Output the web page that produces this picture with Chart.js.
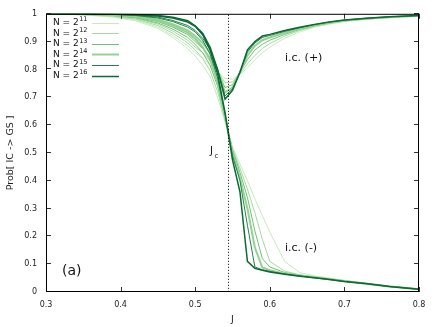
<!DOCTYPE html>
<html><head><meta charset="utf-8">
<script src="https://cdn.jsdelivr.net/npm/chart.js@4.4.1/dist/chart.umd.min.js"></script>
<style>html,body{margin:0;padding:0;background:#fff}</style>
</head><body>
<canvas id="c" width="436" height="327"></canvas>
<script>
// ---- data ----
const J = [0.30,0.33,0.36,0.39,0.42,0.45,0.47,0.49,0.50,0.51,0.52,0.53,0.54,0.55,0.56,0.57,0.58,0.59,0.60,0.62,0.64,0.66,0.68,0.70,0.73,0.76,0.80];
const sizes = ['11','12','13','14','15','16'];

const minus11 = [1.0,0.998,0.994,0.988,0.975,0.948,0.915,0.875,0.848,0.815,0.775,0.70,0.61,0.52,0.46,0.40,0.335,0.275,0.215,0.11,0.07,0.058,0.05,0.042,0.032,0.022,0.012];
const minus12 = [1.0,0.999,0.996,0.991,0.981,0.958,0.93,0.895,0.87,0.84,0.795,0.72,0.62,0.515,0.445,0.37,0.285,0.19,0.11,0.075,0.062,0.055,0.048,0.041,0.031,0.021,0.011];
const minus13 = [1.0,0.999,0.997,0.994,0.986,0.967,0.945,0.915,0.89,0.86,0.815,0.74,0.625,0.51,0.43,0.34,0.22,0.12,0.09,0.07,0.06,0.053,0.047,0.04,0.031,0.021,0.011];
const minus14 = [1.0,1.0,0.998,0.996,0.99,0.976,0.958,0.932,0.91,0.88,0.835,0.755,0.63,0.50,0.41,0.30,0.16,0.088,0.078,0.066,0.059,0.052,0.046,0.039,0.03,0.02,0.01];
const minus15 = [1.0,1.0,0.999,0.998,0.994,0.985,0.972,0.952,0.935,0.905,0.855,0.77,0.64,0.49,0.40,0.24,0.09,0.08,0.074,0.065,0.058,0.051,0.045,0.038,0.03,0.02,0.01];
const minus16 = [1.0,1.0,1.0,0.999,0.997,0.992,0.985,0.97,0.955,0.925,0.87,0.785,0.645,0.475,0.36,0.11,0.085,0.078,0.072,0.064,0.057,0.051,0.045,0.038,0.03,0.02,0.01];

const plus11 = [1.0,0.999,0.995,0.99,0.978,0.953,0.922,0.885,0.86,0.84,0.815,0.79,0.768,0.765,0.782,0.805,0.835,0.86,0.88,0.912,0.935,0.952,0.963,0.972,0.98,0.986,0.992];
const plus12 = [1.0,0.999,0.997,0.993,0.984,0.963,0.938,0.905,0.88,0.86,0.83,0.795,0.752,0.755,0.785,0.82,0.85,0.875,0.893,0.92,0.94,0.955,0.965,0.974,0.981,0.987,0.993];
const plus13 = [1.0,1.0,0.998,0.995,0.988,0.972,0.952,0.925,0.9,0.875,0.845,0.795,0.735,0.745,0.79,0.835,0.87,0.89,0.905,0.926,0.944,0.957,0.967,0.975,0.982,0.988,0.993];
const plus14 = [1.0,1.0,0.999,0.997,0.992,0.98,0.963,0.94,0.92,0.895,0.86,0.795,0.718,0.735,0.79,0.85,0.885,0.905,0.915,0.932,0.948,0.96,0.969,0.976,0.983,0.988,0.993];
const plus15 = [1.0,1.0,1.0,0.998,0.995,0.988,0.976,0.958,0.94,0.912,0.872,0.80,0.705,0.73,0.79,0.862,0.895,0.915,0.922,0.937,0.95,0.961,0.97,0.977,0.984,0.989,0.994];
const plus16 = [1.0,1.0,1.0,0.999,0.998,0.994,0.988,0.975,0.957,0.93,0.88,0.80,0.693,0.725,0.79,0.87,0.90,0.92,0.926,0.94,0.952,0.962,0.971,0.978,0.984,0.989,0.994];

const xTicks = [0.3,0.4,0.5,0.6,0.7,0.8];
const yTicks = [0,0.1,0.2,0.3,0.4,0.5,0.6,0.7,0.8,0.9,1];
const Jc = 0.544;

// ---- styles ----
const colors = ['#c7e9c0','#a5daa0','#6cc273','#95d191','#23824a','#0b6a33'];
const widths = [1,1,1,2,1,1.5];
const FONT = 'DejaVu Sans';

const plusSeries = [plus11,plus12,plus13,plus14,plus15,plus16];
const minusSeries = [minus11,minus12,minus13,minus14,minus15,minus16];

const datasets = [];
sizes.forEach((s,i)=>{
  [['(+)',plusSeries[i]],['(-)',minusSeries[i]]].forEach(([ic,arr])=>{
    datasets.push({
      label:'N = 2^'+s+' i.c. '+ic,
      data: J.map((x,k)=>({x:x,y:arr[k]})),
      borderColor: colors[i], backgroundColor: colors[i],
      borderWidth: widths[i], pointRadius:0, tension:0, fill:false,
      order: 10-i
    });
  });
});

const annotations = [
  {text:'i.c. (+)', J:0.6204, P:0.839, size:11},
  {text:'i.c. (-)', J:0.6204, P:0.157, size:11},
  {text:'(a)', J:0.3214, P:0.075, size:14}
];

const framePlugin = {
  id:'frame',
  afterDraw(chart){
    const {ctx, chartArea:a, scales:{x,y}} = chart;
    ctx.save();
    // Jc dotted line
    const xc = Math.round(x.getPixelForValue(Jc))+0.5;
    ctx.strokeStyle='#000'; ctx.lineWidth=1; ctx.setLineDash([1,2]);
    ctx.beginPath(); ctx.moveTo(xc,a.top+1); ctx.lineTo(xc,a.bottom); ctx.stroke();
    ctx.setLineDash([]);
    // ticks
    ctx.strokeStyle='#333';
    ctx.beginPath();
    xTicks.forEach(v=>{
      const px = Math.round(x.getPixelForValue(v))+0.5;
      ctx.moveTo(px,a.bottom); ctx.lineTo(px,a.bottom-5);
      ctx.moveTo(px,a.top); ctx.lineTo(px,a.top+5);
    });
    yTicks.forEach(v=>{
      const py = Math.round(y.getPixelForValue(v))-0.5;
      ctx.moveTo(a.left,py); ctx.lineTo(a.left+5,py);
      ctx.moveTo(a.right,py); ctx.lineTo(a.right-5,py);
    });
    ctx.stroke();
    // border
    ctx.strokeStyle='#000';
    ctx.strokeRect(a.left+0.5, a.top+0.5, a.right-a.left-1, a.bottom-a.top-1);
    // legend
    ctx.textBaseline='middle'; ctx.textAlign='left'; ctx.fillStyle='#111';
    sizes.forEach((s,i)=>{
      const cy = a.top + 8.7 + i*10.66;
      ctx.font = '9px "'+FONT+'"';
      ctx.fillText('N = 2', 53, cy);
      const w = ctx.measureText('N = 2').width;
      ctx.font = '6.5px "'+FONT+'"';
      ctx.fillText(s, 53+w+0.5, cy-3);
      ctx.strokeStyle = colors[i]; ctx.lineWidth = widths[i];
      ctx.beginPath(); ctx.moveTo(92, Math.round(cy)+0.5); ctx.lineTo(119, Math.round(cy)+0.5); ctx.stroke();
    });
    // annotations
    ctx.fillStyle='#111';
    annotations.forEach(t=>{
      ctx.font = t.size+'px "'+FONT+'"';
      ctx.fillText(t.text, x.getPixelForValue(t.J), y.getPixelForValue(t.P));
    });
    // J_c label
    const jx = x.getPixelForValue(0.5198), jy = y.getPixelForValue(0.504);
    ctx.font = '10px "'+FONT+'"';
    ctx.fillText('J', jx, jy);
    const jw = ctx.measureText('J').width;
    ctx.font = '7px "'+FONT+'"';
    ctx.fillText('c', jx+jw+1.5, jy+4);
    ctx.restore();
  }
};

new Chart(document.getElementById('c'), {
  type:'line',
  data:{datasets},
  options:{
    responsive:false, animation:false, devicePixelRatio:1,
    layout:{padding:{left:0,right:17,top:12,bottom:0}},
    plugins:{legend:{display:false}, tooltip:{enabled:false}},
    scales:{
      x:{type:'linear', min:0.3, max:0.8,
        afterBuildTicks:s=>{s.ticks = xTicks.map(v=>({value:v}));},
        afterFit:s=>{s.height=35;},
        grid:{display:false, drawTicks:false}, border:{display:false},
        ticks:{padding:8, color:'#222', font:{family:FONT,size:8}, maxRotation:0, autoSkip:false,
          callback:v=>Number(v).toFixed(1)},
        title:{display:true, text:'J', color:'#222', font:{family:FONT,size:9.5}, padding:{top:0,bottom:2}}
      },
      y:{type:'linear', min:0, max:1,
        afterBuildTicks:s=>{s.ticks = yTicks.map(v=>({value:v}));},
        afterFit:s=>{s.width=46;},
        grid:{display:false, drawTicks:false}, border:{display:false},
        ticks:{padding:9, color:'#222', font:{family:FONT,size:8}, autoSkip:false,
          callback:v=>String(+Number(v).toFixed(1))},
        title:{display:true, text:'Prob[ IC -> GS ]', color:'#222', font:{family:FONT,size:9.5}, padding:{top:5,bottom:0}}
      }
    }
  },
  plugins:[framePlugin]
});
</script>
</body></html>
